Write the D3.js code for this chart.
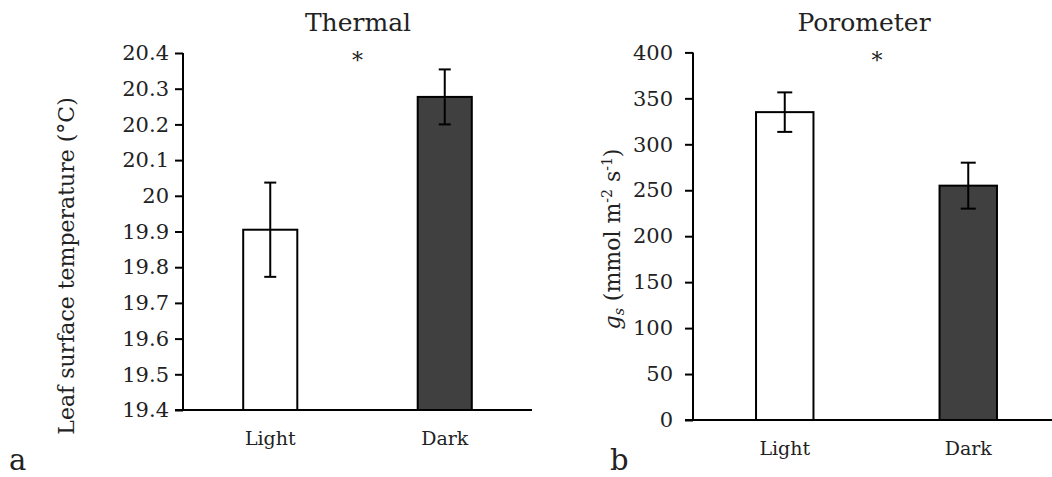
<!DOCTYPE html>
<html>
<head>
<meta charset="utf-8">
<script src="https://cdn.jsdelivr.net/npm/d3@7"></script>
<style>
  body { margin: 0; background: #fff; }
  text { font-family: "DejaVu Serif", serif; fill: #222; }
  .axis path, .axis line { stroke: #000; stroke-width: 2; }
  .axis text { font-size: 21px; fill: #222; }
</style>
</head>
<body>
<div id="chart"></div>
<script>
// data
const categories = ["Light", "Dark"];
const barFills = ["#ffffff", "#404040"];

const thermalMeans = [19.905, 20.277];
const thermalErrors = [0.132, 0.077];
const thermalTicks = [19.4, 19.5, 19.6, 19.7, 19.8, 19.9, 20, 20.1, 20.2, 20.3, 20.4];

const poroMeans = [335, 255];
const poroErrors = [21.5, 25];
const poroTicks = [0, 50, 100, 150, 200, 250, 300, 350, 400];

const svgWidth = 1052;
const svgHeight = 477;

let svg = d3.select("#chart")
  .append("svg")
  .attr("width", svgWidth)
  .attr("height", svgHeight);

// one panel: bars + error bars + axes + title + star
function drawPanel(opt) {
  let g = svg.append("g");

  let x = d3.scaleBand()
    .domain(categories)
    .range([opt.left, opt.right])
    .paddingInner(opt.pad)
    .paddingOuter(opt.pad / 2);

  let y = d3.scaleLinear()
    .domain([opt.ticks[0], opt.ticks[opt.ticks.length - 1]])
    .range([opt.bottom, opt.top]);

  let rows = categories.map((c, i) => ({ cat: c, mean: opt.means[i], err: opt.errors[i], fill: barFills[i] }));

  // bars
  g.selectAll("rect.bar")
    .data(rows)
    .enter()
    .append("rect")
    .attr("class", "bar")
    .attr("x", d => x(d.cat))
    .attr("width", x.bandwidth())
    .attr("y", d => y(d.mean))
    .attr("height", d => opt.bottom - y(d.mean))
    .attr("fill", d => d.fill)
    .attr("stroke", "#000")
    .attr("stroke-width", 2);

  // error bars
  let eb = g.selectAll("g.err")
    .data(rows)
    .enter()
    .append("g")
    .attr("class", "err")
    .attr("stroke", "#000")
    .attr("stroke-width", 2);
  let cx = d => x(d.cat) + x.bandwidth() / 2;
  eb.append("line")
    .attr("x1", cx).attr("x2", cx)
    .attr("y1", d => y(d.mean + d.err))
    .attr("y2", d => y(d.mean - d.err));
  eb.append("line")
    .attr("x1", d => cx(d) - opt.cap).attr("x2", d => cx(d) + opt.cap)
    .attr("y1", d => y(d.mean + d.err)).attr("y2", d => y(d.mean + d.err));
  eb.append("line")
    .attr("x1", d => cx(d) - opt.cap).attr("x2", d => cx(d) + opt.cap)
    .attr("y1", d => y(d.mean - d.err)).attr("y2", d => y(d.mean - d.err));

  // y axis
  let yAxis = g.append("g")
    .attr("class", "axis")
    .attr("transform", `translate(${opt.left}, 0)`)
    .call(d3.axisLeft(y)
      .tickValues(opt.ticks)
      .tickFormat(d => String(+d.toFixed(1)))
      .tickSizeInner(8)
      .tickSizeOuter(0)
      .tickPadding(opt.tickPad));
  yAxis.select(".domain").attr("d", `M0,${opt.top}V${opt.bottom}`);

  // x axis line (no ticks)
  g.append("line")
    .attr("x1", opt.left - 8)
    .attr("x2", opt.axisEnd)
    .attr("y1", opt.bottom)
    .attr("y2", opt.bottom)
    .attr("stroke", "#000")
    .attr("stroke-width", 2);

  // category labels
  g.selectAll("text.cat")
    .data(categories)
    .enter()
    .append("text")
    .attr("class", "cat")
    .attr("x", d => x(d) + x.bandwidth() / 2)
    .attr("y", opt.bottom + 35)
    .attr("text-anchor", "middle")
    .style("font-size", "19px")
    .text(d => d);

  // title
  g.append("text")
    .attr("x", opt.titleX)
    .attr("y", 31)
    .attr("text-anchor", "middle")
    .style("font-size", "25px")
    .text(opt.title);

  // significance star
  g.append("text")
    .attr("x", opt.starX)
    .attr("y", 68)
    .attr("text-anchor", "middle")
    .style("font-size", "22px")
    .text("*");

  // panel letter
  g.append("text")
    .attr("x", opt.letterX)
    .attr("y", 470)
    .style("font-size", "29px")
    .text(opt.letter);

  return g;
}

let thermal = drawPanel({
  left: 183, right: 532, top: 53, bottom: 410, axisEnd: 532,
  pad: 0.69, cap: 6, tickPad: 6,
  ticks: thermalTicks, means: thermalMeans, errors: thermalErrors,
  title: "Thermal", titleX: 358, starX: 357.5, letter: "a", letterX: 9
});

thermal.append("text")
  .attr("transform", "translate(74, 266) rotate(-90)")
  .attr("text-anchor", "middle")
  .style("font-size", "22px")
  .text("Leaf surface temperature (°C)");

let poro = drawPanel({
  left: 693, right: 1060, top: 52.4, bottom: 420, axisEnd: 1052,
  pad: 0.687, cap: 7.5, tickPad: 12,
  ticks: poroTicks, means: poroMeans, errors: poroErrors,
  title: "Porometer", titleX: 864, starX: 877, letter: "b", letterX: 610
});

let gsLabel = poro.append("text")
  .attr("transform", "translate(620, 239) rotate(-90)")
  .attr("text-anchor", "middle")
  .style("font-size", "22px");
gsLabel.append("tspan").style("font-style", "italic").text("g");
gsLabel.append("tspan").style("font-style", "italic").style("font-size", "14px").attr("dy", 4).text("s");
gsLabel.append("tspan").attr("dy", -4).text(" (mmol m");
gsLabel.append("tspan").style("font-size", "14px").attr("dy", -8).text("-2");
gsLabel.append("tspan").attr("dy", 8).text(" s");
gsLabel.append("tspan").style("font-size", "14px").attr("dy", -8).text("-1");
gsLabel.append("tspan").attr("dy", 8).text(")");
</script>
</body>
</html>
